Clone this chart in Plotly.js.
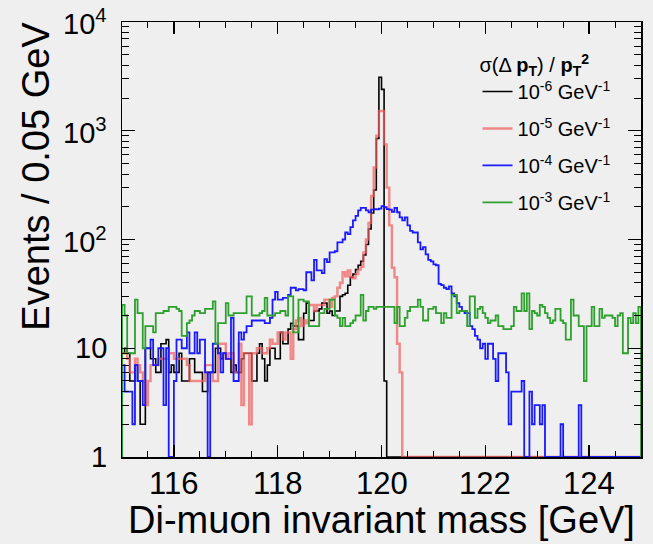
<!DOCTYPE html>
<html>
<head>
<meta charset="utf-8">
<script src="https://cdn.plot.ly/plotly-3.0.1.min.js"></script>
<style>html,body{margin:0;padding:0;background:#efefef;}</style>
</head>
<body>
<div id="chart" style="width:653px;height:544px;"></div>
<script>
// Histogram binning: 200 bins of 0.05 GeV from 115 to 125 GeV
const binStart = 115.0;
const binWidth = 0.05;

// Series labels (legend)
const seriesLabels = [
  '10<sup>-6</sup> GeV<sup>-1</sup>',
  '10<sup>-5</sup> GeV<sup>-1</sup>',
  '10<sup>-4</sup> GeV<sup>-1</sup>',
  '10<sup>-3</sup> GeV<sup>-1</sup>'
];

// Events per bin, sigma(1/pT) = 1e-6 GeV^-1
const res1e6 = [
  9, 10, 9, 5, 5, 7, 5, 2, 2, 10,
  10, 8, 8, 6, 6, 11, 11, 12, 6, 7,
  6, 6, 9, 5, 5, 5, 8, 8, 6, 6,
  6, 4, 4, 6, 6, 6, 10, 10, 8, 9,
  8, 8, 6, 7, 6, 6, 8, 9, 9, 9,
  5, 5, 9, 11, 8, 5, 7, 10, 10, 8,
  8, 14, 11, 11, 15, 17, 16, 16, 12, 12,
  21, 26, 18, 18, 22, 22, 23, 26, 26, 21,
  22, 20, 22, 22, 30, 31, 32, 38, 45, 48,
  53, 58, 63, 72, 90, 125, 175, 285, 850, 3100,
  2400, 5, 0, 0, 0, 0, 0, 0, 0, 0,
  0, 0, 0, 0, 0, 0, 0, 0, 0, 0,
  0, 0, 0, 0, 0, 0, 0, 0, 0, 0,
  0, 0, 0, 0, 0, 0, 0, 0, 0, 0,
  0, 0, 0, 0, 0, 0, 0, 0, 0, 0,
  0, 0, 0, 0, 0, 0, 0, 0, 0, 0,
  0, 0, 0, 0, 0, 0, 0, 0, 0, 0,
  0, 0, 0, 0, 0, 0, 0, 0, 0, 0,
  0, 0, 0, 0, 0, 0, 0, 0, 0, 0,
  0, 0, 0, 0, 0, 0, 0, 0, 0, 0
];

// Events per bin, sigma = 1e-5 GeV^-1
const res1e5 = [
  9, 9, 8, 6, 6, 8, 7, 6, 5, 3,
  5, 7, 7, 7, 8, 8, 8, 8, 9, 9,
  8, 8, 8, 8, 8, 7, 5, 5, 5, 5,
  5, 5, 7, 7, 7, 5, 5, 11, 11, 11,
  8, 9, 9, 6, 6, 11, 3, 9, 9, 2,
  9, 9, 10, 10, 9, 9, 10, 12, 11, 11,
  14, 14, 12, 14, 14, 8, 15, 18, 19, 16,
  18, 17, 25, 25, 22, 25, 25, 25, 28, 28,
  24, 29, 30, 36, 40, 50, 46, 52, 45, 44,
  48, 53, 56, 76, 100, 142, 251, 460, 900, 1520,
  1520, 750, 300, 135, 55, 45, 11, 6, 0, 0,
  0, 0, 0, 0, 0, 0, 0, 0, 0, 0,
  0, 0, 0, 0, 0, 0, 0, 0, 0, 0,
  0, 0, 0, 0, 0, 0, 0, 0, 0, 0,
  0, 0, 0, 0, 0, 0, 0, 0, 0, 0,
  0, 0, 0, 0, 0, 0, 0, 0, 0, 0,
  0, 0, 0, 0, 0, 0, 0, 0, 0, 0,
  0, 0, 0, 0, 0, 0, 0, 0, 0, 0,
  0, 0, 0, 0, 0, 0, 0, 0, 0, 0,
  0, 0, 0, 0, 0, 0, 0, 0, 0, 0
];

// Events per bin, sigma = 1e-4 GeV^-1
const res1e4 = [
  7, 4, 4, 4, 2, 7, 5, 5, 3, 10,
  10, 12, 7, 7, 10, 10, 3, 10, 0, 0,
  5, 12, 12, 10, 10, 14, 9, 9, 14, 9,
  12, 12, 6, 0, 6, 11, 11, 9, 6, 9,
  8, 8, 19, 5, 5, 14, 12, 14, 16, 16,
  18, 18, 18, 18, 18, 17, 17, 19, 28, 33,
  28, 28, 29, 29, 31, 36, 36, 34, 35, 35,
  34, 50, 50, 42, 65, 52, 52, 49, 66, 62,
  76, 76, 78, 94, 94, 100, 116, 112, 130, 150,
  165, 185, 195, 195, 185, 178, 188, 190, 189, 192,
  203, 198, 190, 188, 180, 195, 178, 160, 150, 160,
  135, 120, 116, 116, 94, 81, 85, 73, 65, 63,
  59, 58, 39, 38, 36, 35, 37, 32, 30, 26,
  24, 22, 21, 21, 16, 15, 13, 12, 10, 11,
  8, 11, 11, 8, 5, 9, 9, 9, 6, 2,
  4, 4, 4, 4, 5, 0, 0, 4, 2, 3,
  3, 2, 3, 0, 0, 0, 0, 0, 0, 2,
  0, 0, 0, 0, 0, 0, 3, 0, 0, 0,
  0, 0, 0, 0, 0, 0, 0, 0, 0, 0,
  0, 0, 0, 0, 0, 0, 0, 0, 0, 0
];

// Events per bin, sigma = 1e-3 GeV^-1
const res1e3 = [
  25, 20, 9, 9, 9, 28, 21, 21, 10, 16,
  16, 16, 14, 21, 21, 21, 22, 22, 24, 24,
  24, 23, 22, 13, 13, 17, 18, 20, 22, 22,
  21, 21, 23, 23, 23, 27, 11, 17, 17, 17,
  26, 20, 20, 21, 21, 21, 21, 21, 30, 30,
  20, 20, 20, 21, 22, 29, 20, 20, 20, 21,
  21, 22, 22, 20, 30, 30, 14, 14, 28, 28,
  27, 27, 16, 16, 16, 16, 21, 21, 23, 23,
  28, 28, 20, 19, 16, 19, 16, 16, 17, 18,
  20, 20, 31, 18, 22, 24, 24, 23, 24, 24,
  24, 24, 24, 24, 24, 17, 24, 16, 16, 19,
  22, 24, 24, 24, 28, 24, 18, 18, 23, 23,
  24, 21, 21, 17, 21, 19, 19, 31, 31, 21,
  22, 22, 22, 16, 30, 30, 19, 23, 24, 21,
  19, 17, 18, 18, 20, 16, 16, 15, 15, 15,
  16, 24, 22, 22, 32, 22, 32, 15, 22, 21,
  20, 25, 24, 21, 19, 17, 18, 23, 23, 18,
  17, 12, 12, 28, 20, 20, 16, 16, 5, 16,
  16, 24, 16, 16, 23, 19, 20, 20, 20, 19,
  16, 20, 21, 9, 9, 19, 17, 21, 17, 24
];

// Axis tick values and labels
const xTickVals = [116, 118, 120, 122, 124];
const xTickText = ['116', '118', '120', '122', '124'];
const yTickVals = [1, 10, 100, 1000, 10000];
const yTickText = ['1', '10', '10<sup>2</sup>', '10<sup>3</sup>', '10<sup>4</sup>'];

// ---- build step-histogram paths (ROOT style) ----
const AXIS_FLOOR = 1; // bottom of log axis; empty bins are drawn along it
function stepTrace(vals) {
  const x = [binStart], y = [AXIS_FLOOR];
  for (let i = 0; i < vals.length; i++) {
    x.push(binStart + i * binWidth);
    y.push(vals[i] > 0 ? vals[i] : AXIS_FLOOR);
  }
  const xEnd = binStart + vals.length * binWidth;
  const last = vals[vals.length - 1] > 0 ? vals[vals.length - 1] : AXIS_FLOOR;
  x.push(xEnd); y.push(last);
  x.push(xEnd); y.push(AXIS_FLOOR);
  return {x, y};
}

const seriesData = [res1e6, res1e5, res1e4, res1e3];
const seriesColors = ['#000000', 'rgba(240,95,95,0.72)', '#1a1aff', '#2ea02e'];
const seriesWidths = [1.6, 2.4, 1.8, 1.8];

const traces = seriesData.map((vals, k) => {
  const s = stepTrace(vals);
  return {
    type: 'scatter', mode: 'lines',
    x: s.x, y: s.y,
    line: {shape: 'hv', color: seriesColors[k], width: seriesWidths[k]},
    name: seriesLabels[k],
    legendgroup: 'g' + k,
    hoverinfo: 'skip'
  };
});

const minorY = [];
for (let d = 0; d < 4; d++) for (let m = 2; m <= 9; m++) minorY.push(m * Math.pow(10, d));

const FONT = 'Liberation Sans, Arial, Helvetica, sans-serif';
const PLOT_W = 653 - 122 - 12;
const Y_LABEL_SIZE = 29;
const Y_LABEL_RIGHT_PX = 15; // gap between label right edge and frame

// estimated rendered width of a y label (digits 0.556 em, superscript at 70 %)
function labelWidth(t) {
  const m = t.match(/^([^<]*)(?:<sup>([^<]*)<\/sup>)?$/);
  const base = m[1].length, sup = m[2] ? m[2].length : 0;
  return 0.556 * Y_LABEL_SIZE * (base + 0.7 * sup);
}

const tickAnnotations = xTickVals.map((v, i) => ({
  text: xTickText[i], xref: 'x', yref: 'paper', x: v, y: -0.062,
  xanchor: 'center', yanchor: 'middle', showarrow: false,
  font: {size: 31, family: FONT, color: '#000'}
}));
yTickVals.forEach((v, i) => {
  const cx = -(Y_LABEL_RIGHT_PX + labelWidth(yTickText[i]) / 2) / PLOT_W;
  tickAnnotations.push({
    text: yTickText[i], xref: 'paper', yref: 'y', x: cx, y: Math.log10(v),
    xanchor: 'center', yanchor: 'middle', showarrow: false,
    font: {size: Y_LABEL_SIZE, family: FONT, color: '#000'}
  });
});

const layout = {
  width: 653, height: 544,
  paper_bgcolor: '#efefef', plot_bgcolor: '#efefef',
  margin: {l: 122, r: 12, t: 22, b: 87},
  font: {family: FONT, color: '#000'},
  showlegend: true,
  xaxis: {
    range: [115, 125], tickmode: 'array', tickvals: xTickVals, ticktext: xTickText,
    showticklabels: false,
    ticks: 'inside', ticklen: 12, tickwidth: 1.3, tickcolor: '#000',
    mirror: 'ticks', showline: true, linewidth: 1.5, linecolor: '#000',
    showgrid: false, zeroline: false,
    minor: {tick0: 115, dtick: 0.5, ticks: 'inside', ticklen: 6, tickwidth: 1, tickcolor: '#000', showgrid: false},
    title: {text: 'Di-muon invariant mass [GeV]', font: {size: 38, family: FONT}, standoff: 49}
  },
  yaxis: {
    type: 'log', range: [0, 4],
    tickmode: 'array', tickvals: yTickVals, ticktext: yTickText,
    showticklabels: false,
    ticks: 'inside', ticklen: 13, tickwidth: 1.3, tickcolor: '#000',
    mirror: 'ticks', showline: true, linewidth: 1.5, linecolor: '#000',
    showgrid: false, zeroline: false,
    minor: {tickmode: 'array', tickvals: minorY, ticks: 'inside', ticklen: 7, tickwidth: 1, tickcolor: '#000', showgrid: false}
  },
  legend: {
    x: 0.685, y: 0.945, xanchor: 'left', yanchor: 'top',
    bgcolor: 'rgba(0,0,0,0)', borderwidth: 0,
    font: {size: 20, family: FONT},
    title: {text: 'σ(Δ <b>p<sub>T</sub></b>) / <b>p<sub>T</sub><sup>2</sup></b>', font: {size: 20, family: FONT}},
    traceorder: 'grouped', tracegroupgap: 8, itemwidth: 30
  },
  annotations: tickAnnotations.concat([{
    text: 'Events / 0.05 GeV', textangle: -90,
    xref: 'paper', yref: 'paper', x: -0.165, y: 1.005,
    xanchor: 'center', yanchor: 'top', showarrow: false,
    font: {size: 38, family: FONT}
  }])
};

Plotly.newPlot('chart', traces, layout, {displayModeBar: false, staticPlot: true});
</script>
</body>
</html>
